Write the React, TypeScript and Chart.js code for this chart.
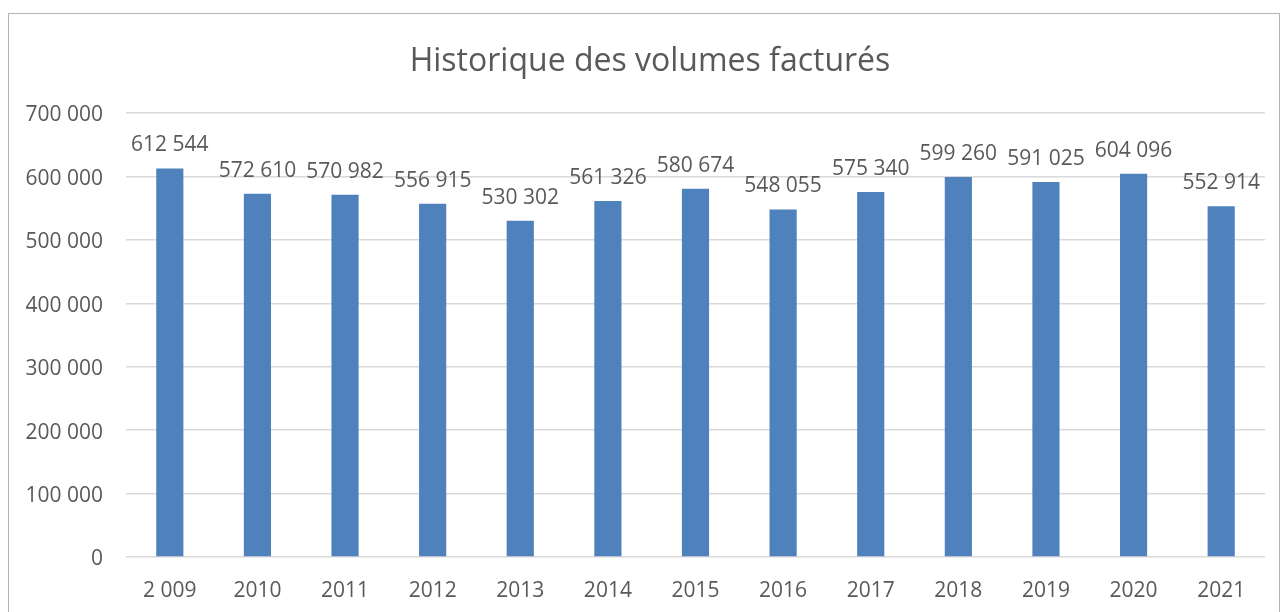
import React, { useEffect, useRef } from "react";
import { Chart, registerables } from "chart.js";

Chart.register(...registerables);

const TITLE = "Historique des volumes facturés";
const categories = ["2 009", "2010", "2011", "2012", "2013", "2014", "2015", "2016", "2017", "2018", "2019", "2020", "2021"];
const volumes = [612544, 572610, 570982, 556915, 530302, 561326, 580674, 548055, 575340, 599260, 591025, 604096, 552914];
const yMin = 0;
const yMax = 700000;
const yStep = 100000;

const FONT = "'Open Sans', 'DejaVu Sans', sans-serif";
const TEXT = "#595959";

function fmt(v: number): string {
  const s = Math.round(v).toString();
  return s.replace(/\B(?=(\d{3})+(?!\d))/g, " ");
}

const framePlugin = {
  id: "frame",
  beforeDraw(chart: any) {
    const ctx = chart.ctx;
    ctx.save();
    ctx.fillStyle = "#ffffff";
    ctx.fillRect(0, 0, chart.width, chart.height);
    ctx.strokeStyle = "#b4b4b4";
    ctx.lineWidth = 1;
    ctx.strokeRect(8.5, 13.5, 1271, 700);
    ctx.fillStyle = TEXT;
    ctx.font = `32px ${FONT}`;
    ctx.textAlign = "center";
    ctx.textBaseline = "middle";
    ctx.fillText(TITLE, 650, 62);
    ctx.restore();
  },
  afterDatasetsDraw(chart: any) {
    const ctx = chart.ctx;
    const meta = chart.getDatasetMeta(0);
    const data = chart.data.datasets[0].data as number[];
    ctx.save();
    ctx.fillStyle = TEXT;
    ctx.font = `21px ${FONT}`;
    ctx.textAlign = "center";
    ctx.textBaseline = "middle";
    meta.data.forEach((bar: any, i: number) => {
      ctx.fillText(fmt(data[i]), bar.x, bar.y - 23);
    });
    ctx.restore();
  },
};

export default function App() {
  const ref = useRef<HTMLCanvasElement | null>(null);
  useEffect(() => {
    if (!ref.current) return;
    const chart = new Chart(ref.current, {
      type: "bar",
      data: {
        labels: categories,
        datasets: [
          {
            data: volumes,
            backgroundColor: "#4f81bd",
            borderWidth: 0,
            barPercentage: 0.31,
            categoryPercentage: 1,
          },
        ],
      },
      options: {
        responsive: false,
        animation: false,
        devicePixelRatio: 1,
        layout: { padding: { top: 113, right: 17, bottom: 0, left: 0 } },
        plugins: {
          legend: { display: false },
          title: { display: false },
          tooltip: { enabled: false },
        },
        scales: {
          x: {
            grid: { display: false, drawTicks: false },
            border: { display: false },
            ticks: { color: TEXT, font: { family: FONT, size: 21 }, padding: 21, maxRotation: 0, autoSkip: false },
            afterFit(scale: any) {
              scale.height = 55;
            },
          },
          y: {
            min: yMin,
            max: yMax,
            grid: { color: "#d9d9d9", lineWidth: 1.5, drawTicks: false },
            border: { display: false },
            ticks: {
              stepSize: yStep,
              color: TEXT,
              font: { family: FONT, size: 21 },
              padding: 23,
              labelOffset: 2.5,
              callback: (v: any) => fmt(Number(v)),
            },
            afterFit(scale: any) {
              scale.width = 126;
            },
          },
        },
      },
      plugins: [framePlugin],
    });
    return () => chart.destroy();
  }, []);
  return (
    <div style={{ position: "fixed", left: 0, top: 0, width: 1282, height: 612, background: "#fff" }}>
      <canvas ref={ref} width={1282} height={612} style={{ display: "block" }} />
    </div>
  );
}
